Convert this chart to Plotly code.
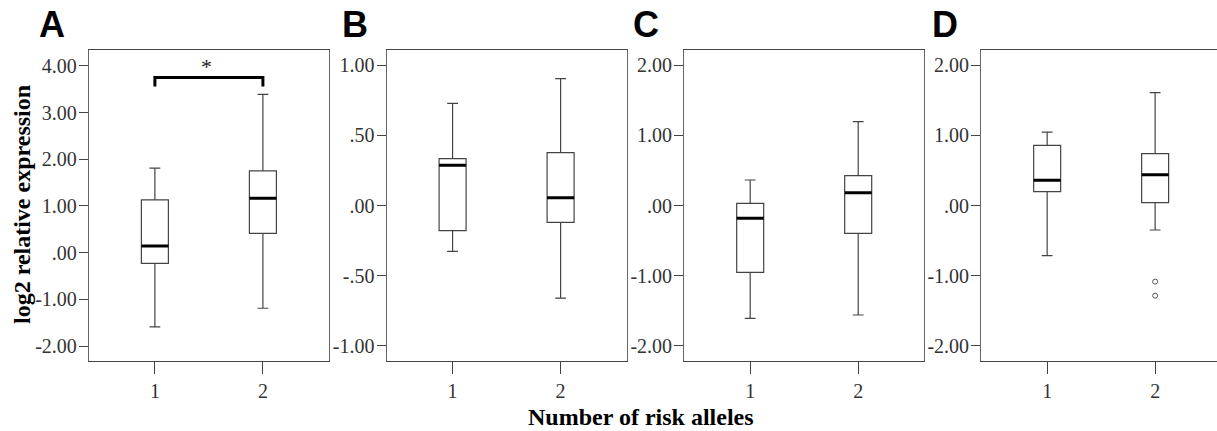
import plotly.graph_objects as go

# ---- data ----
panels = ["A", "B", "C", "D"]
categories = ["1", "2"]
positions = [1, 2]

lower_whisker = {"A": [-1.59, -1.19], "B": [-0.326, -0.66], "C": [-1.606, -1.559], "D": [-0.714, -0.349]}
q1 = {"A": [-0.23, 0.415], "B": [-0.179, -0.12], "C": [-0.951, -0.396], "D": [0.197, 0.04]}
median = {"A": [0.143, 1.165], "B": [0.286, 0.056], "C": [-0.183, 0.183], "D": [0.359, 0.439]}
q3 = {"A": [1.13, 1.75], "B": [0.333, 0.376], "C": [0.031, 0.425], "D": [0.857, 0.738]}
upper_whisker = {"A": [1.81, 3.39], "B": [0.727, 0.903], "C": [0.363, 1.193], "D": [1.046, 1.606]}

outlier_panel = "D"
outlier_x = [2, 2]
outlier_y = [-1.084, -1.284]

y_ticks = {
    "A": [4, 3, 2, 1, 0, -1, -2],
    "B": [1, 0.5, 0, -0.5, -1],
    "C": [2, 1, 0, -1, -2],
    "D": [2, 1, 0, -1, -2],
}
y_ticktext = {
    "A": ["4.00", "3.00", "2.00", "1.00", ".00", "-1.00", "-2.00"],
    "B": ["1.00", ".50", ".00", "-.50", "-1.00"],
    "C": ["2.00", "1.00", ".00", "-1.00", "-2.00"],
    "D": ["2.00", "1.00", ".00", "-1.00", "-2.00"],
}
y_ranges = {"A": [-2.32, 4.34], "B": [-1.107, 1.107], "C": [-2.214, 2.214], "D": [-2.214, 2.214]}

sig_bracket_y = [3.56, 3.75]
sig_star_y = 3.98
sig_label = "*"

y_title = "log2 relative expression"
x_title = "Number of risk alleles"

# ---- layout geometry ----
W, H = 1217, 431
x_domains = {
    "A": [89 / W, 329 / W],
    "B": [386.7 / W, 626.7 / W],
    "C": [684.3 / W, 924.3 / W],
    "D": [981.3 / W, 1.0],
}
x_ranges = {"A": [0.39, 2.612], "B": [0.39, 2.612], "C": [0.39, 2.612], "D": [0.39, 2.573]}
y_domain = [(H - 361) / H, (H - 50) / H]
letter_x = {"A": 51.5, "B": 355, "C": 645.5, "D": 944.5}

BOX_W = 0.25
serif = "Liberation Serif, Times New Roman, serif"

fig = go.Figure()
shapes = []
annotations = []

for i, p in enumerate(panels):
    idx = "" if i == 0 else str(i + 1)
    xa, ya = "x" + idx, "y" + idx
    fig.add_trace(go.Box(
        x=positions,
        q1=q1[p], median=median[p], q3=q3[p],
        lowerfence=lower_whisker[p], upperfence=upper_whisker[p],
        width=BOX_W, whiskerwidth=0.4,
        fillcolor="white",
        line=dict(color="#444", width=1.2),
        boxpoints=False,
        xaxis=xa, yaxis=ya, showlegend=False, hoverinfo="skip",
    ))
    # thick median lines
    for xpos, m in zip(positions, median[p]):
        shapes.append(dict(type="line", xref=xa, yref=ya,
                           x0=xpos - BOX_W / 2, x1=xpos + BOX_W / 2, y0=m, y1=m,
                           line=dict(color="black", width=3)))
    fig.update_layout(**{
        "xaxis" + idx: dict(
            domain=x_domains[p], range=x_ranges[p], anchor=ya,
            tickvals=positions, ticktext=categories,
            showline=True, linecolor="#444", linewidth=1.4, mirror=True,
            ticks="outside", ticklen=12, tickcolor="#444", tickwidth=1.2,
            showgrid=False, zeroline=False, ticklabelstandoff=0,
            tickfont=dict(family=serif, size=20, color="#333"),
        ),
        "yaxis" + idx: dict(
            domain=y_domain, range=y_ranges[p], anchor=xa,
            tickvals=y_ticks[p], ticktext=y_ticktext[p],
            showline=True, linecolor="#666", linewidth=1.4, mirror=(p != "D"),
            ticks="outside", ticklen=9, tickcolor="#444", tickwidth=1.2,
            showgrid=False, zeroline=False, ticklabelstandoff=-2,
            tickfont=dict(family=serif, size=20, color="#333"),
        ),
    })
    annotations.append(dict(
        text="<b>%s</b>" % p, x=letter_x[p] / W, y=(H - 25) / H,
        xref="paper", yref="paper", xanchor="center", yanchor="middle",
        showarrow=False, font=dict(family="Liberation Sans, Arial, sans-serif", size=36, color="black"),
    ))

# outliers in panel D
fig.add_trace(go.Scatter(
    x=outlier_x, y=outlier_y, mode="markers",
    marker=dict(symbol="circle-open", size=5, color="#555", line=dict(width=1)),
    xaxis="x4", yaxis="y4", showlegend=False, hoverinfo="skip",
))

# significance bracket in panel A
shapes.append(dict(
    type="path", xref="x", yref="y",
    path="M %g,%g L %g,%g L %g,%g L %g,%g" % (
        positions[0], sig_bracket_y[0], positions[0], sig_bracket_y[1],
        positions[1], sig_bracket_y[1], positions[1], sig_bracket_y[0]),
    line=dict(color="black", width=3),
))
annotations.append(dict(
    text=sig_label, x=1.48, y=sig_star_y,
    xref="x", yref="y", showarrow=False, xanchor="center", yanchor="middle",
    font=dict(family=serif, size=22, color="#222"),
))

annotations.append(dict(
    text="<b>%s</b>" % y_title, x=22 / W, y=(H - 205) / H, xref="paper", yref="paper",
    textangle=-90, showarrow=False, xanchor="center", yanchor="middle",
    font=dict(family=serif, size=24, color="black"),
))
annotations.append(dict(
    text="<b>%s</b>" % x_title, x=641 / W, y=(H - 417) / H, xref="paper", yref="paper",
    showarrow=False, xanchor="center", yanchor="middle",
    font=dict(family=serif, size=24, color="black"),
))

fig.update_layout(
    width=W, height=H,
    margin=dict(l=0, r=0, t=0, b=0),
    paper_bgcolor="white", plot_bgcolor="white",
    shapes=shapes, annotations=annotations,
)

fig.write_html(
    "out.html",
    config={"displayModeBar": False},
    post_script="document.body.style.margin='0';document.body.style.overflow='hidden';",
)
